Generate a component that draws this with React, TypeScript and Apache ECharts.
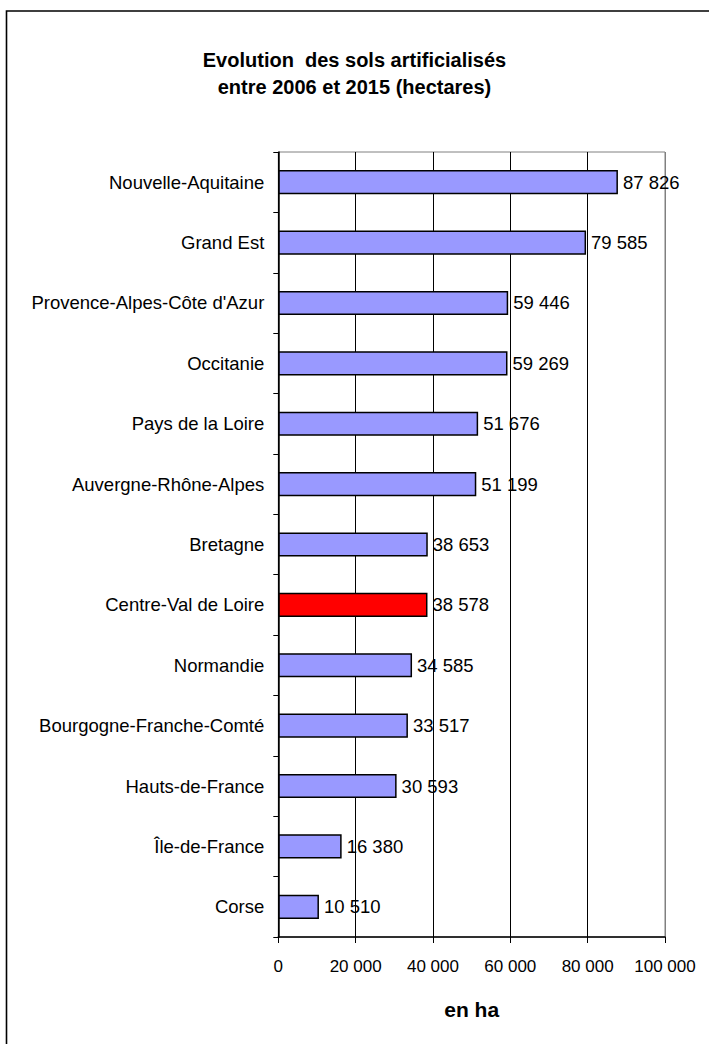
import React, { useEffect, useRef } from "react";
import * as echarts from "echarts";

const categories = [
  "Nouvelle-Aquitaine",
  "Grand Est",
  "Provence-Alpes-Côte d'Azur",
  "Occitanie",
  "Pays de la Loire",
  "Auvergne-Rhône-Alpes",
  "Bretagne",
  "Centre-Val de Loire",
  "Normandie",
  "Bourgogne-Franche-Comté",
  "Hauts-de-France",
  "Île-de-France",
  "Corse",
];
const values = [87826, 79585, 59446, 59269, 51676, 51199, 38653, 38578, 34585, 33517, 30593, 16380, 10510];
const highlighted = "Centre-Val de Loire";
const titleLines = ["Evolution  des sols artificialisés", "entre 2006 et 2015 (hectares)"];
const axisName = "en ha";

const FONT = "'Liberation Sans', Arial, Helvetica, sans-serif";
const fmt = (v: number) => String(Math.round(v)).replace(/\B(?=(\d{3})+(?!\d))/g, " ");

export default function App() {
  const ref = useRef<HTMLDivElement>(null);
  useEffect(() => {
    document.body.style.margin = "0";
    const chart = echarts.init(ref.current!, null, { renderer: "svg" });
    chart.setOption({
      animation: false,
      backgroundColor: "#ffffff",
      textStyle: { fontFamily: FONT },
      title: {
        text: titleLines.join("\n"),
        left: "center",
        top: 41,
        textStyle: {
          fontFamily: FONT,
          fontSize: 20,
          fontWeight: "bold",
          color: "#000",
          lineHeight: 27,
        },
      },
      graphic: [
        {
          type: "rect",
          shape: { x: 6.5, y: 11, width: 760, height: 1100 },
          style: { fill: "none", stroke: "#000", lineWidth: 1.6 },
          silent: true,
          z: 100,
        },
      ],
      grid: {
        left: 278.3,
        right: 44,
        top: 152,
        bottom: 107,
        containLabel: false,
        show: true,
        borderColor: "#808080",
        borderWidth: 1,
        backgroundColor: "#ffffff",
      },
      xAxis: {
        type: "value",
        min: 0,
        max: 100000,
        interval: 20000,
        name: axisName,
        nameLocation: "middle",
        nameGap: 62,
        nameTextStyle: { fontFamily: FONT, fontSize: 21, fontWeight: "bold", color: "#000" },
        axisLine: { show: true, lineStyle: { color: "#000", width: 1.5 } },
        axisTick: { show: true, length: 6, lineStyle: { color: "#000", width: 1 } },
        axisLabel: {
          formatter: (v: number) => fmt(v),
          fontFamily: FONT,
          fontSize: 17,
          color: "#000",
          margin: 21,
        },
        splitLine: {
          show: true,
          lineStyle: { color: ["#000", "#000", "#000", "#000", "#000", "#808080"], width: 1 },
        },
      },
      yAxis: {
        type: "category",
        inverse: true,
        data: categories,
        axisLine: { show: true, lineStyle: { color: "#000", width: 1.5 } },
        axisTick: { show: true, length: 5, lineStyle: { color: "#000", width: 1 } },
        axisLabel: { fontFamily: FONT, fontSize: 18.5, color: "#000", margin: 14 },
        splitLine: { show: false },
      },
      series: [
        {
          type: "bar",
          barWidth: "40%",
          data: values.map((v, i) => ({
            value: v,
            itemStyle: { color: categories[i] === highlighted ? "#ff0000" : "#9999ff" },
          })),
          itemStyle: { borderColor: "#000", borderWidth: 1.5 },
          label: {
            show: true,
            position: "right",
            distance: 5,
            formatter: (p: any) => fmt(p.value),
            fontFamily: FONT,
            fontSize: 18.5,
            color: "#000",
          },
        },
      ],
    });
    return () => chart.dispose();
  }, []);
  return <div ref={ref} style={{ width: 709, height: 1044 }} />;
}
